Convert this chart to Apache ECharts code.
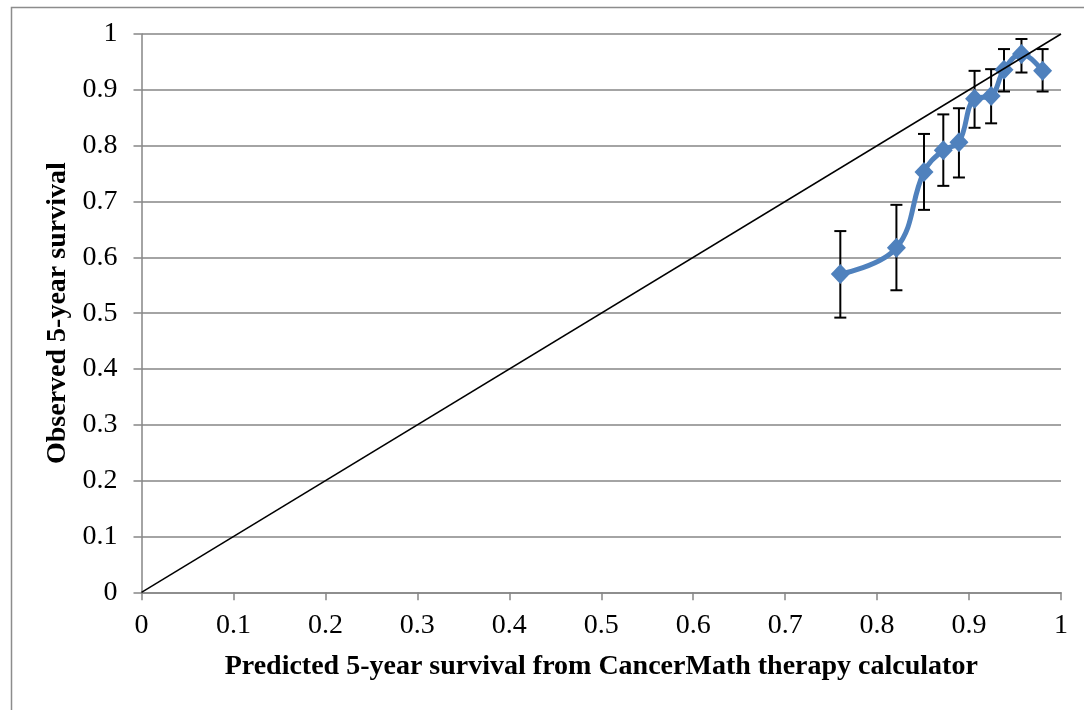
<!DOCTYPE html>
<html>
<head>
<meta charset="utf-8">
<script src="https://cdn.jsdelivr.net/npm/echarts@6/dist/echarts.min.js"></script>
<style>html,body{margin:0;padding:0;background:#fff;}#chart{width:1084px;height:710px;}</style>
</head>
<body>
<div id="chart"></div>
<script>
const predicted = [0.760, 0.821, 0.851, 0.872, 0.889, 0.906, 0.924, 0.938, 0.957, 0.980];
const observed  = [0.570, 0.617, 0.753, 0.792, 0.806, 0.884, 0.889, 0.936, 0.964, 0.934];
const errLow    = [0.492, 0.541, 0.685, 0.728, 0.743, 0.832, 0.840, 0.897, 0.931, 0.897];
const errHigh   = [0.647, 0.694, 0.821, 0.856, 0.867, 0.934, 0.937, 0.973, 0.991, 0.973];
const diagonal  = [[0, 0], [1, 1]];
const xTitle = 'Predicted 5-year survival from CancerMath therapy calculator';
const yTitle = 'Observed 5-year survival';

const font = "'Liberation Serif', 'Times New Roman', serif";
const axisGray = '#868686';

const chart = echarts.init(document.getElementById('chart'), null, {renderer: 'canvas'});
const obsData = predicted.map((x, i) => [x, observed[i]]);
const errData = predicted.map((x, i) => [x, errLow[i], errHigh[i]]);

const option = {
  animation: false,
  backgroundColor: '#fff',
  graphic: [{
    type: 'rect', left: 9, top: 5, z: -10,
    shape: {width: 1200, height: 800},
    style: {fill: 'none', stroke: '#8c8c8c', lineWidth: 1.5}
  }],
  grid: {left: 141.5, right: 23, top: 34, bottom: 117.7, containLabel: false},
  xAxis: {
    type: 'value', min: 0, max: 1, interval: 0.1,
    name: xTitle, nameLocation: 'middle', nameGap: 60,
    nameTextStyle: {fontFamily: font, fontSize: 28, fontWeight: 'bold', color: '#000'},
    axisLine: {show: true, lineStyle: {color: axisGray, width: 1.5}},
    axisTick: {show: true, inside: false, length: 8, lineStyle: {color: axisGray, width: 1.5}},
    axisLabel: {fontFamily: font, fontSize: 28, color: '#000', margin: 19,
      formatter: v => String(Math.round(v * 10) / 10)},
    splitLine: {show: false}
  },
  yAxis: {
    type: 'value', min: 0, max: 1, interval: 0.1,
    name: yTitle, nameLocation: 'middle', nameGap: 66, nameRotate: 90,
    nameTextStyle: {fontFamily: font, fontSize: 28, fontWeight: 'bold', color: '#000'},
    axisLine: {show: true, lineStyle: {color: axisGray, width: 1.5}},
    axisTick: {show: true, inside: false, length: 8, lineStyle: {color: axisGray, width: 1.5}},
    axisLabel: {fontFamily: font, fontSize: 28, color: '#000', margin: 24,
      formatter: v => String(Math.round(v * 10) / 10)},
    splitLine: {show: true, lineStyle: {color: axisGray, width: 1.5}}
  },
  series: [
    {
      type: 'custom', z: 2,
      data: errData,
      encode: {x: 0, y: [1, 2]},
      renderItem: function (params, api) {
        const x = api.value(0);
        const lo = api.coord([x, api.value(1)]);
        const hi = api.coord([x, api.value(2)]);
        const hw = 6;
        const st = {stroke: '#000', lineWidth: 2};
        return {
          type: 'group',
          children: [
            {type: 'line', shape: {x1: lo[0], y1: lo[1], x2: hi[0], y2: hi[1]}, style: st},
            {type: 'line', shape: {x1: lo[0] - hw, y1: lo[1], x2: lo[0] + hw, y2: lo[1]}, style: st},
            {type: 'line', shape: {x1: hi[0] - hw, y1: hi[1], x2: hi[0] + hw, y2: hi[1]}, style: st}
          ]
        };
      }
    },
    {
      type: 'line', z: 3,
      data: obsData,
      smooth: 0.4,
      symbol: 'diamond', symbolSize: [19, 20],
      lineStyle: {color: '#4F81BD', width: 5},
      itemStyle: {color: '#4F81BD'}
    },
    {
      type: 'line', z: 4,
      data: diagonal,
      symbol: 'none',
      lineStyle: {color: '#000', width: 1.5}
    }
  ]
};
chart.setOption(option);
</script>
</body>
</html>
